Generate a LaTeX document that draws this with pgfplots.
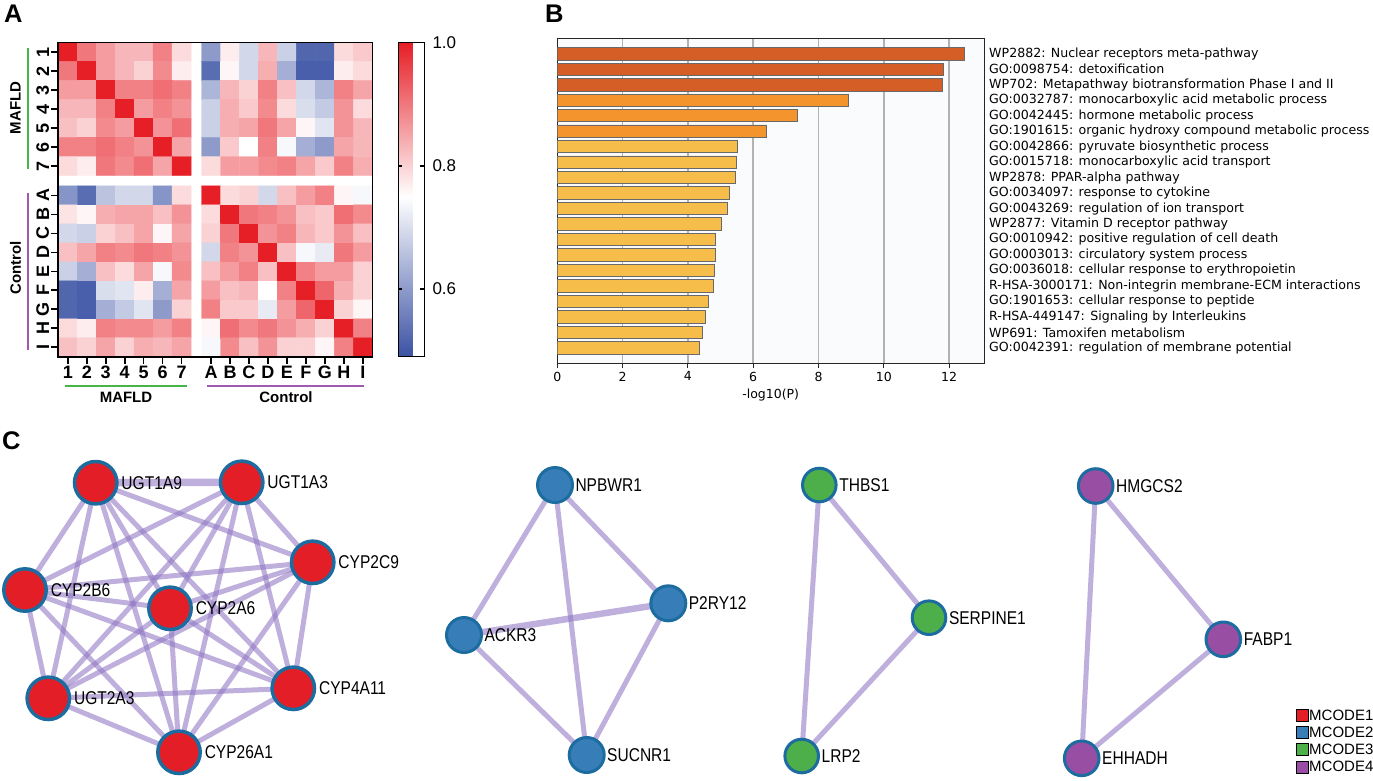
\documentclass[border=0pt]{standalone}
\usepackage{pgfplots}
\pgfplotsset{compat=1.18}
\usepackage{graphicx}
\usepackage{fontspec}
\setmainfont{Liberation Sans}
\newfontfamily\dejavu{DejaVu Sans}

\definecolor{grpgreen}{RGB}{70,180,70}
\definecolor{grppurple}{RGB}{160,90,175}
\definecolor{bardark}{RGB}{212,94,38}
\definecolor{barmid}{RGB}{243,148,45}
\definecolor{barlight}{RGB}{247,189,75}
\definecolor{barline}{RGB}{105,105,105}
\definecolor{bgB}{RGB}{250,251,252}
\definecolor{edgecol}{RGB}{147,122,197}
\definecolor{ring}{RGB}{28,108,160}
\definecolor{nred}{RGB}{228,30,38}
\definecolor{nblue}{RGB}{55,126,184}
\definecolor{ngreen}{RGB}{77,175,74}
\definecolor{npurple}{RGB}{152,78,163}

\newcommand{\fs}[1]{\fontsize{#1}{#1}\selectfont}

\pgfplotsset{
  edge/.style={no markers, draw=edgecol, draw opacity=0.6, line width=5pt},
  thickedge/.style={edge, line width=7.5pt},
  netnode/.style={only marks, mark=*, point meta=explicit symbolic,
    nodes near coords={\scalebox{0.84}[1]{\pgfplotspointmeta}},
    nodes near coords style={anchor=west, inner sep=0pt, font=\fs{18.5}, text=black}},
  legsq/.style={only marks, mark=square*, mark size=6pt, point meta=explicit symbolic,
    nodes near coords={\pgfplotspointmeta},
    nodes near coords style={anchor=west, inner sep=0pt, xshift=7pt, font=\fs{15}, text=black}},
}

\begin{document}
\begin{tikzpicture}[x=1pt,y=1pt]
\path[use as bounding box] (0,0) rectangle (1373,-781);

% ---------------- A: correlation heatmap ----------------
\begin{axis}[
  at={(58.3pt,-42.7pt)}, anchor=north west,
  scale only axis, width=314pt, height=314pt,
  xmin=-0.5, xmax=16.05, ymin=-0.5, ymax=16.05,
  axis on top,
  axis line style={line width=1.6pt},
  colormap={hm}{rgb255(0pt)=(59,82,164); rgb255(26pt)=(255,255,255); rgb255(51pt)=(230,30,38)},
  point meta min=0.49, point meta max=1.0,
  xtick={0,1,2,3,4,5,6,7.55,8.55,9.55,10.55,11.55,12.55,13.55,14.55,15.55},
  xticklabels={1,2,3,4,5,6,7,A,B,C,D,E,F,G,H,I},
  ytick={0,1,2,3,4,5,6,7,8,9.55,10.55,11.55,12.55,13.55,14.55,15.55},
  yticklabels={I,H,G,F,E,D,C,B,A,7,6,5,4,3,2,1},
  tick pos=left, tick align=outside, major tick length=7pt,
  every tick/.style={black, line width=1.6pt},
  ticklabel style={font=\bfseries\fs{18}, inner sep=2pt},
  yticklabel style={rotate=90, anchor=south},
  colorbar,
  colorbar shift/.style={xshift=26pt},
  colorbar style={
    at={([xshift=26pt]parent axis.north east)}, anchor=north west,
    width=26pt,
    axis line style={line width=1.6pt},
    xtick=\empty,
    ytick={0.6,0.8,1.0}, yticklabels={0.6,0.8,1.0},
    tick pos=both, yticklabel pos=right, tick align=inside, major tick length=4pt,
    every tick/.style={black, line width=1.4pt},
    yticklabel style={rotate=0, anchor=west, font=\mdseries\fs{17}, inner sep=0pt, xshift=8pt},
  },
]
% MAFLD rows x MAFLD cols
\addplot[matrix plot*, point meta=explicit, mesh/cols=7] coordinates {
(0,15.55)[1.00] (1,15.55)[0.90] (2,15.55)[0.86] (3,15.55)[0.83] (4,15.55)[0.83] (5,15.55)[0.89] (6,15.55)[0.79]
(0,14.55)[0.90] (1,14.55)[1.00] (2,14.55)[0.86] (3,14.55)[0.83] (4,14.55)[0.80] (5,14.55)[0.88] (6,14.55)[0.77]
(0,13.55)[0.86] (1,13.55)[0.86] (2,13.55)[1.00] (3,13.55)[0.89] (4,13.55)[0.89] (5,13.55)[0.91] (6,13.55)[0.89]
(0,12.55)[0.83] (1,12.55)[0.83] (2,12.55)[0.89] (3,12.55)[1.00] (4,12.55)[0.86] (5,12.55)[0.89] (6,12.55)[0.87]
(0,11.55)[0.82] (1,11.55)[0.80] (2,11.55)[0.88] (3,11.55)[0.86] (4,11.55)[1.00] (5,11.55)[0.87] (6,11.55)[0.91]
(0,10.55)[0.89] (1,10.55)[0.89] (2,10.55)[0.91] (3,10.55)[0.89] (4,10.55)[0.87] (5,10.55)[1.00] (6,10.55)[0.85]
(0,9.55)[0.79] (1,9.55)[0.77] (2,9.55)[0.90] (3,9.55)[0.88] (4,9.55)[0.91] (5,9.55)[0.85] (6,9.55)[1.00]
};
% MAFLD rows x Control cols
\addplot[matrix plot*, point meta=explicit, mesh/cols=9] coordinates {
(7.55,15.55)[0.60] (8.55,15.55)[0.77] (9.55,15.55)[0.69] (10.55,15.55)[0.83] (11.55,15.55)[0.68] (12.55,15.55)[0.52] (13.55,15.55)[0.52] (14.55,15.55)[0.79] (15.55,15.55)[0.81]
(7.55,14.55)[0.53] (8.55,14.55)[0.76] (9.55,14.55)[0.69] (10.55,14.55)[0.84] (11.55,14.55)[0.63] (12.55,14.55)[0.51] (13.55,14.55)[0.51] (14.55,14.55)[0.77] (15.55,14.55)[0.79]
(7.55,13.55)[0.64] (8.55,13.55)[0.83] (9.55,13.55)[0.80] (10.55,13.55)[0.89] (11.55,13.55)[0.82] (12.55,13.55)[0.69] (13.55,13.55)[0.64] (14.55,13.55)[0.89] (15.55,13.55)[0.85]
(7.55,12.55)[0.68] (8.55,12.55)[0.84] (9.55,12.55)[0.81] (10.55,12.55)[0.88] (11.55,12.55)[0.79] (12.55,12.55)[0.70] (13.55,12.55)[0.67] (14.55,12.55)[0.87] (15.55,12.55)[0.79]
(7.55,11.55)[0.68] (8.55,11.55)[0.84] (9.55,11.55)[0.85] (10.55,11.55)[0.90] (11.55,11.55)[0.85] (12.55,11.55)[0.76] (13.55,11.55)[0.71] (14.55,11.55)[0.87] (15.55,11.55)[0.83]
(7.55,10.55)[0.60] (8.55,10.55)[0.81] (9.55,10.55)[0.75] (10.55,10.55)[0.89] (11.55,10.55)[0.74] (12.55,10.55)[0.63] (13.55,10.55)[0.60] (14.55,10.55)[0.85] (15.55,10.55)[0.83]
(7.55,9.55)[0.79] (8.55,9.55)[0.86] (9.55,9.55)[0.86] (10.55,9.55)[0.88] (11.55,9.55)[0.89] (12.55,9.55)[0.85] (13.55,9.55)[0.81] (14.55,9.55)[0.89] (15.55,9.55)[0.84]
};
% Control rows x MAFLD cols
\addplot[matrix plot*, point meta=explicit, mesh/cols=7] coordinates {
(0,8)[0.59] (1,8)[0.53] (2,8)[0.66] (3,8)[0.69] (4,8)[0.69] (5,8)[0.59] (6,8)[0.79]
(0,7)[0.78] (1,7)[0.76] (2,7)[0.84] (3,7)[0.85] (4,7)[0.85] (5,7)[0.82] (6,7)[0.87]
(0,6)[0.69] (1,6)[0.68] (2,6)[0.80] (3,6)[0.82] (4,6)[0.85] (5,6)[0.76] (6,6)[0.85]
(0,5)[0.82] (1,5)[0.85] (2,5)[0.89] (3,5)[0.88] (4,5)[0.90] (5,5)[0.89] (6,5)[0.87]
(0,4)[0.68] (1,4)[0.63] (2,4)[0.82] (3,4)[0.79] (4,4)[0.85] (5,4)[0.74] (6,4)[0.88]
(0,3)[0.52] (1,3)[0.51] (2,3)[0.70] (3,3)[0.71] (4,3)[0.77] (5,3)[0.63] (6,3)[0.85]
(0,2)[0.52] (1,2)[0.51] (2,2)[0.63] (3,2)[0.67] (4,2)[0.71] (5,2)[0.60] (6,2)[0.80]
(0,1)[0.79] (1,1)[0.77] (2,1)[0.89] (3,1)[0.88] (4,1)[0.88] (5,1)[0.86] (6,1)[0.89]
(0,0)[0.82] (1,0)[0.80] (2,0)[0.85] (3,0)[0.80] (4,0)[0.84] (5,0)[0.83] (6,0)[0.85]
};
% Control rows x Control cols
\addplot[matrix plot*, point meta=explicit, mesh/cols=9] coordinates {
(7.55,8)[1.00] (8.55,8)[0.79] (9.55,8)[0.80] (10.55,8)[0.69] (11.55,8)[0.82] (12.55,8)[0.86] (13.55,8)[0.89] (14.55,8)[0.76] (15.55,8)[0.74]
(7.55,7)[0.79] (8.55,7)[1.00] (9.55,7)[0.90] (10.55,7)[0.89] (11.55,7)[0.87] (12.55,7)[0.82] (13.55,7)[0.81] (14.55,7)[0.91] (15.55,7)[0.88]
(7.55,6)[0.80] (8.55,6)[0.90] (9.55,6)[1.00] (10.55,6)[0.87] (11.55,6)[0.89] (12.55,6)[0.83] (13.55,6)[0.81] (14.55,6)[0.87] (15.55,6)[0.82]
(7.55,5)[0.69] (8.55,5)[0.89] (9.55,5)[0.87] (10.55,5)[1.00] (11.55,5)[0.82] (12.55,5)[0.74] (13.55,5)[0.72] (14.55,5)[0.90] (15.55,5)[0.86]
(7.55,4)[0.82] (8.55,4)[0.86] (9.55,4)[0.89] (10.55,4)[0.82] (11.55,4)[1.00] (12.55,4)[0.89] (13.55,4)[0.86] (14.55,4)[0.86] (15.55,4)[0.80]
(7.55,3)[0.86] (8.55,3)[0.82] (9.55,3)[0.83] (10.55,3)[0.75] (11.55,3)[0.89] (12.55,3)[1.00] (13.55,3)[0.92] (14.55,3)[0.84] (15.55,3)[0.80]
(7.55,2)[0.89] (8.55,2)[0.81] (9.55,2)[0.81] (10.55,2)[0.72] (11.55,2)[0.86] (12.55,2)[0.92] (13.55,2)[1.00] (14.55,2)[0.80] (15.55,2)[0.76]
(7.55,1)[0.76] (8.55,1)[0.91] (9.55,1)[0.88] (10.55,1)[0.90] (11.55,1)[0.87] (12.55,1)[0.84] (13.55,1)[0.80] (14.55,1)[1.00] (15.55,1)[0.89]
(7.55,0)[0.74] (8.55,0)[0.88] (9.55,0)[0.82] (10.55,0)[0.87] (11.55,0)[0.80] (12.55,0)[0.80] (13.55,0)[0.76] (14.55,0)[0.89] (15.55,0)[1.00]
};
\end{axis}

% group brackets and labels of A
\draw[grpgreen, line width=2.2pt] (65,-385.7) -- (186.7,-385.7);
\draw[grppurple, line width=2.2pt] (207,-385.7) -- (364,-385.7);
\node[font=\bfseries\fs{15}] at (126,-397) {MAFLD};
\node[font=\bfseries\fs{15}] at (286,-397) {Control};
\draw[grpgreen, line width=2.2pt] (27.7,-47.7) -- (27.7,-169);
\draw[grppurple, line width=2.2pt] (27.7,-192.7) -- (27.7,-350);
\node[rotate=90, font=\bfseries\fs{15}] at (15.5,-108) {MAFLD};
\node[rotate=90, font=\bfseries\fs{15}] at (15.5,-268) {Control};

% ---------------- B: enrichment bars ----------------
\begin{axis}[
  at={(557.3pt,-38.3pt)}, anchor=north west,
  scale only axis, width=426.7pt, height=325pt,
  xmin=0, xmax=13.07, ymin=0, ymax=21,
  xbar, bar width=12.4pt, bar shift=0pt,
  axis background/.style={fill=bgB},
  axis line style={draw=black!85, line width=0.9pt},
  xtick={0,2,4,6,8,10,12},
  xmajorgrids, major grid style={draw=black!30, line width=1.6pt},
  xtick pos=left, tick align=outside, major tick length=5pt,
  xtick style={black!85, line width=0.9pt},
  xticklabel style={font=\dejavu\fs{12.5}},
  /pgf/number format/assume math mode=true,
  xlabel={-log10(P)}, xlabel style={font=\dejavu\fs{12.5}, yshift=-1pt},
  ytick={1,...,20},
  yticklabels={
    {GO:0042391: regulation of membrane potential},
    {WP691: Tamoxifen metabolism},
    {R-HSA-449147: Signaling by Interleukins},
    {GO:1901653: cellular response to peptide},
    {R-HSA-3000171: Non-integrin membrane-ECM interactions},
    {GO:0036018: cellular response to erythropoietin},
    {GO:0003013: circulatory system process},
    {GO:0010942: positive regulation of cell death},
    {WP2877: Vitamin D receptor pathway},
    {GO:0043269: regulation of ion transport},
    {GO:0034097: response to cytokine},
    {WP2878: PPAR-alpha pathway},
    {GO:0015718: monocarboxylic acid transport},
    {GO:0042866: pyruvate biosynthetic process},
    {GO:1901615: organic hydroxy compound metabolic process},
    {GO:0042445: hormone metabolic process},
    {GO:0032787: monocarboxylic acid metabolic process},
    {WP702: Metapathway biotransformation Phase I and II},
    {GO:0098754: detoxification},
    {WP2882: Nuclear receptors meta-pathway}},
  ytick pos=right, yticklabel pos=right, ytick style={draw=none},
  yticklabel style={anchor=west, font=\dejavu\fs{12.6}, inner sep=0pt},
]
\addplot[xbar, fill=bardark, draw=barline, line width=0.8pt] coordinates {
(12.46,20) (11.82,19) (11.80,18)};
\addplot[xbar, fill=barmid, draw=barline, line width=0.8pt] coordinates {
(8.92,17) (7.36,16) (6.41,15)};
\addplot[xbar, fill=barlight, draw=barline, line width=0.8pt] coordinates {
(5.52,14) (5.49,13) (5.45,12) (5.26,11) (5.21,10) (5.03,9) (4.85,8)
(4.83,7) (4.81,6) (4.77,5) (4.64,4) (4.55,3) (4.43,2) (4.35,1)};
\end{axis}

% ---------------- C: MCODE networks ----------------
\begin{axis}[
  at={(0pt,0pt)}, anchor=north west,
  scale only axis, width=1373pt, height=781pt,
  xmin=0, xmax=1373, ymin=0, ymax=781, y dir=reverse,
  hide axis, clip=false,
]
% MCODE1 edges
\addplot[thickedge] coordinates {(95.7,482.7) (241.7,482.3)};
\addplot[edge] coordinates {(95.7,482.7) (312.7,562.3)};
\addplot[edge] coordinates {(95.7,482.7) (25,590)};
\addplot[edge] coordinates {(95.7,482.7) (170,608.3)};
\addplot[edge] coordinates {(95.7,482.7) (48.3,698.3)};
\addplot[edge] coordinates {(95.7,482.7) (293.3,688.3)};
\addplot[edge] coordinates {(95.7,482.7) (179,752.3)};
\addplot[edge] coordinates {(241.7,482.3) (312.7,562.3)};
\addplot[edge] coordinates {(241.7,482.3) (25,590)};
\addplot[edge] coordinates {(241.7,482.3) (170,608.3)};
\addplot[edge] coordinates {(241.7,482.3) (48.3,698.3)};
\addplot[edge] coordinates {(241.7,482.3) (293.3,688.3)};
\addplot[edge] coordinates {(241.7,482.3) (179,752.3)};
\addplot[edge] coordinates {(312.7,562.3) (25,590)};
\addplot[edge] coordinates {(312.7,562.3) (170,608.3)};
\addplot[edge] coordinates {(312.7,562.3) (48.3,698.3)};
\addplot[edge] coordinates {(312.7,562.3) (293.3,688.3)};
\addplot[edge] coordinates {(312.7,562.3) (179,752.3)};
\addplot[edge] coordinates {(25,590) (170,608.3)};
\addplot[edge] coordinates {(25,590) (48.3,698.3)};
\addplot[edge] coordinates {(25,590) (293.3,688.3)};
\addplot[edge] coordinates {(25,590) (179,752.3)};
\addplot[edge] coordinates {(170,608.3) (48.3,698.3)};
\addplot[edge] coordinates {(170,608.3) (293.3,688.3)};
\addplot[edge] coordinates {(170,608.3) (179,752.3)};
\addplot[edge] coordinates {(48.3,698.3) (293.3,688.3)};
\addplot[edge] coordinates {(48.3,698.3) (179,752.3)};
\addplot[edge] coordinates {(293.3,688.3) (179,752.3)};
% MCODE2 edges
\addplot[edge] coordinates {(555,485) (464,635)};
\addplot[edge] coordinates {(555,485) (586.7,755)};
\addplot[edge] coordinates {(555,485) (668.3,603.3)};
\addplot[thickedge, line width=6.5pt] coordinates {(464,635) (668.3,603.3)};
\addplot[edge] coordinates {(464,635) (586.7,755)};
\addplot[edge] coordinates {(668.3,603.3) (586.7,755)};
% MCODE3 edges
\addplot[edge] coordinates {(819.3,485) (929,617.7)};
\addplot[edge] coordinates {(819.3,485) (801.7,756)};
\addplot[edge] coordinates {(929,617.7) (801.7,756)};
% MCODE4 edges
\addplot[edge] coordinates {(1095.7,486) (1223.3,639.3)};
\addplot[edge] coordinates {(1095.7,486) (1081.7,758.3)};
\addplot[edge] coordinates {(1223.3,639.3) (1081.7,758.3)};

% nodes
\addplot[netnode, mark size=21.2pt, mark options={fill=nred, draw=ring, line width=3.5pt},
  nodes near coords style={xshift=24pt}] table[meta=label] {
x y label
95.7 482.7 UGT1A9
241.7 482.3 UGT1A3
312.7 562.3 CYP2C9
25 590 CYP2B6
170 608.3 CYP2A6
48.3 698.3 UGT2A3
293.3 688.3 CYP4A11
179 752.3 CYP26A1
};
\addplot[netnode, mark size=17.5pt, mark options={fill=nblue, draw=ring, line width=3pt},
  nodes near coords style={xshift=19pt}] table[meta=label] {
x y label
555 485 NPBWR1
668.3 603.3 P2RY12
464 635 ACKR3
586.7 755 SUCNR1
};
\addplot[netnode, mark size=16.8pt, mark options={fill=ngreen, draw=ring, line width=3pt},
  nodes near coords style={xshift=18.5pt}] table[meta=label] {
x y label
819.3 485 THBS1
929 617.7 SERPINE1
801.7 756 LRP2
};
\addplot[netnode, mark size=17.3pt, mark options={fill=npurple, draw=ring, line width=3pt},
  nodes near coords style={xshift=19pt}] table[meta=label] {
x y label
1095.7 486 HMGCS2
1223.3 639.3 FABP1
1081.7 758.3 EHHADH
};

% legend of clusters
\addplot[legsq, mark options={fill=nred, draw=none}] coordinates {(1302,715.3) [MCODE1]};
\addplot[legsq, mark options={fill=nblue, draw=none}] coordinates {(1302,732.3) [MCODE2]};
\addplot[legsq, mark options={fill=ngreen, draw=none}] coordinates {(1302,749.3) [MCODE3]};
\addplot[legsq, mark options={fill=npurple, draw=none}] coordinates {(1302,766.7) [MCODE4]};
\end{axis}

% panel letters
\node[anchor=north west, inner sep=0pt, font=\bfseries\fs{25.5}] at (4,-5) {A};
\node[anchor=north west, inner sep=0pt, font=\bfseries\fs{25.5}] at (545,-5) {B};
\node[anchor=north west, inner sep=0pt, font=\bfseries\fs{25.5}] at (2,-431) {C};
\end{tikzpicture}
\end{document}
